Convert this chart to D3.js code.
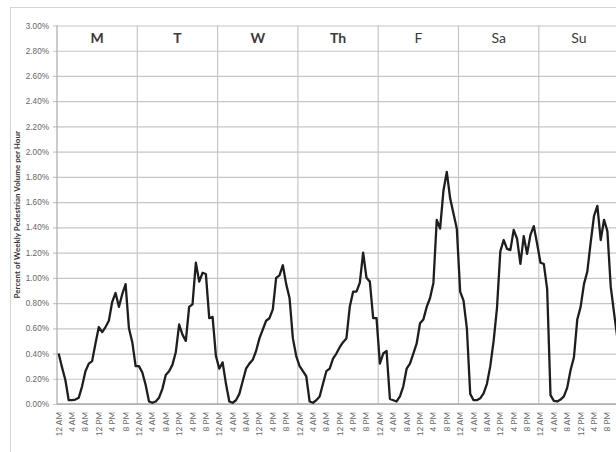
<!DOCTYPE html>
<html>
<head>
<meta charset="utf-8">
<script src="https://cdn.jsdelivr.net/npm/d3@7"></script>
<style>
  html, body { margin: 0; padding: 0; background: #fff; }
  svg { display: block; font-family: Lato, "Open Sans", "Liberation Sans", sans-serif; }
</style>
</head>
<body>
<svg id="chart" width="616" height="452"></svg>
<script>
// Hourly share of weekly pedestrian volume (%), one array per weekday
const days = ["M", "T", "W", "Th", "F", "Sa", "Su"];
const boldDays = ["M", "T", "W", "Th"];
const hourLabels = ["12 AM", "4 AM", "8 AM", "12 PM", "4 PM", "8 PM"];
const hourLabelHours = [0, 4, 8, 12, 16, 20];
const yTicks = [0, 0.2, 0.4, 0.6, 0.8, 1.0, 1.2, 1.4, 1.6, 1.8, 2.0, 2.2, 2.4, 2.6, 2.8, 3.0];

const mon = [0.40, 0.29, 0.19, 0.03, 0.03, 0.035, 0.05, 0.14, 0.26, 0.32, 0.34, 0.48, 0.61, 0.57, 0.61, 0.66, 0.81, 0.88, 0.77, 0.87, 0.95, 0.60, 0.49, 0.30];
const tue = [0.30, 0.25, 0.15, 0.02, 0.01, 0.02, 0.05, 0.12, 0.23, 0.26, 0.31, 0.41, 0.63, 0.55, 0.50, 0.77, 0.79, 1.12, 0.97, 1.04, 1.03, 0.68, 0.69, 0.38];
const wed = [0.28, 0.33, 0.16, 0.02, 0.01, 0.03, 0.08, 0.18, 0.28, 0.32, 0.35, 0.42, 0.52, 0.59, 0.66, 0.68, 0.75, 1.00, 1.02, 1.10, 0.95, 0.84, 0.52, 0.38];
const thu = [0.30, 0.26, 0.22, 0.02, 0.01, 0.03, 0.06, 0.16, 0.26, 0.28, 0.36, 0.40, 0.45, 0.49, 0.52, 0.77, 0.89, 0.89, 0.96, 1.20, 1.00, 0.97, 0.68, 0.68];
const fri = [0.32, 0.40, 0.42, 0.04, 0.03, 0.02, 0.06, 0.14, 0.28, 0.32, 0.40, 0.48, 0.64, 0.67, 0.77, 0.84, 0.96, 1.46, 1.39, 1.69, 1.84, 1.63, 1.51, 1.39];
const sat = [0.89, 0.82, 0.60, 0.08, 0.03, 0.03, 0.045, 0.085, 0.16, 0.30, 0.50, 0.76, 1.21, 1.30, 1.23, 1.22, 1.38, 1.31, 1.11, 1.33, 1.19, 1.34, 1.41, 1.27];
const sun = [1.12, 1.11, 0.91, 0.07, 0.025, 0.02, 0.035, 0.06, 0.13, 0.27, 0.37, 0.67, 0.77, 0.95, 1.05, 1.28, 1.49, 1.57, 1.30, 1.46, 1.37, 0.93, 0.72, 0.52];

const week = [mon, tue, wed, thu, fri, sat, sun];
const hoursPerDay = 24;
const series = week.flat().map((v, i) => ({ i, v }));

const svg = d3.select("#chart");
const margin = { left: 57, top: 25.5, bottom: 404 };
const dayWidth = 80.3;
const plotRight = margin.left + dayWidth * days.length;

// Outer chart frame (runs past the right and bottom edges)
svg.append("rect")
  .attr("x", 10.5).attr("y", 7.5)
  .attr("width", 760).attr("height", 520)
  .attr("fill", "#fff")
  .attr("stroke", "#d4d4d4")
  .attr("stroke-width", 1);

const x = d3.scaleLinear()
  .domain([0, hoursPerDay * days.length])
  .range([margin.left, plotRight]);

const y = d3.scaleLinear()
  .domain([0, 3])
  .range([margin.bottom, margin.top]);

const pct = d3.format(".2%");

// Horizontal gridlines + y axis labels
const yAxis = d3.axisLeft(y)
  .tickValues(yTicks)
  .tickSize(-(plotRight - margin.left))
  .tickPadding(8)
  .tickFormat(d => pct(d / 100));

const gy = svg.append("g")
  .attr("transform", `translate(${margin.left},0)`)
  .call(yAxis);
gy.select(".domain").remove();
gy.selectAll(".tick line")
  .attr("stroke", "#c6c6c6")
  .attr("stroke-width", 1.2)
  .attr("x1", -4);
gy.selectAll(".tick text")
  .attr("fill", "#666")
  .attr("font-size", 8.2);

// Day separators
svg.append("g")
  .selectAll("line")
  .data(d3.range(days.length + 1))
  .join("line")
  .attr("x1", d => x(d * hoursPerDay))
  .attr("x2", d => x(d * hoursPerDay))
  .attr("y1", margin.top)
  .attr("y2", margin.bottom)
  .attr("stroke", d => d === 0 ? "#aaa" : "#c6c6c6")
  .attr("stroke-width", 1.2);

// Baseline
svg.append("line")
  .attr("x1", margin.left).attr("x2", plotRight)
  .attr("y1", y(0)).attr("y2", y(0))
  .attr("stroke", "#aaa")
  .attr("stroke-width", 1.4);

// Day names in the top band
svg.append("g")
  .selectAll("text")
  .data(days)
  .join("text")
  .attr("x", (d, i) => x(i * hoursPerDay + hoursPerDay / 2))
  .attr("y", (y(3) + y(2.8)) / 2 + 5)
  .attr("text-anchor", "middle")
  .attr("font-size", 14)
  .attr("font-weight", d => boldDays.includes(d) ? 700 : 400)
  .attr("fill", "#3a3a3a")
  .text(d => d);

// Hour labels under each day, rotated
const hourTicks = [];
days.forEach((d, di) => {
  hourLabelHours.forEach((h, hi) => {
    hourTicks.push({ pos: di * hoursPerDay + h + 0.5, label: hourLabels[hi] });
  });
});
svg.append("g")
  .selectAll("text")
  .data(hourTicks)
  .join("text")
  .attr("transform", d => `translate(${x(d.pos) + 3},${margin.bottom + 8}) rotate(-90)`)
  .attr("text-anchor", "end")
  .attr("font-size", 8.2)
  .attr("fill", "#666")
  .text(d => d.label);

// Y axis title
svg.append("text")
  .attr("transform", `translate(20,${(margin.top + margin.bottom) / 2}) rotate(-90)`)
  .attr("text-anchor", "middle")
  .attr("font-size", 8)
  .attr("font-weight", 700)
  .attr("fill", "#333")
  .text("Percent of Weekly Pedestrian Volume per Hour");

// Volume line
const line = d3.line()
  .x(d => x(d.i + 0.5))
  .y(d => y(d.v));

svg.append("path")
  .datum(series)
  .attr("fill", "none")
  .attr("stroke", "#1e1e1e")
  .attr("stroke-width", 2.3)
  .attr("stroke-linejoin", "round")
  .attr("d", line);
</script>
</body>
</html>
